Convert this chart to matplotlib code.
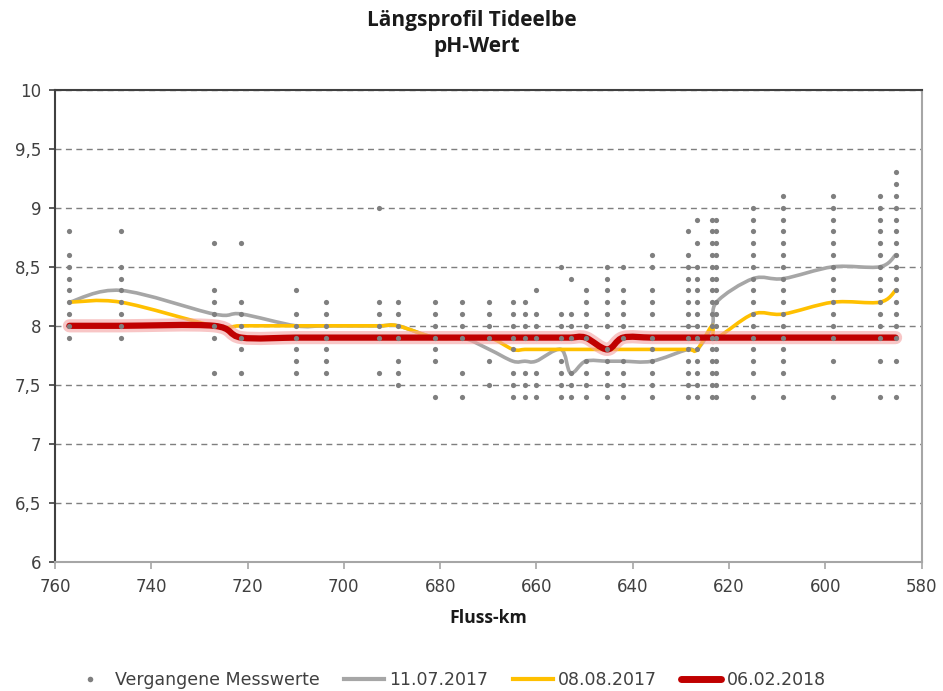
import matplotlib
matplotlib.use("Agg")
import matplotlib.pyplot as plt
import numpy as np
from matplotlib.path import Path
from matplotlib.patches import PathPatch
from matplotlib.lines import Line2D
from matplotlib.ticker import FuncFormatter

# measuring stations (Fluss-km)
stations = [757.0, 746.3, 727.0, 721.3, 710.0, 703.7, 692.7, 688.8, 681.1, 675.4,
            669.8, 664.9, 662.4, 660.1, 654.9, 652.9, 649.8, 645.3, 642.0, 636.0,
            628.6, 626.6, 623.5, 622.6, 615.0, 608.7, 598.4, 588.7, 585.4]

# past measurements per station
past_values = [
    [8.8, 8.6, 8.5, 8.4, 8.3, 8.2, 8.1, 8.0, 7.9],
    [8.8, 8.5, 8.4, 8.3, 8.2, 8.1, 8.0, 7.9],
    [8.7, 8.3, 8.2, 8.1, 8.0, 7.9, 7.6],
    [8.7, 8.2, 8.1, 8.0, 7.9, 7.8, 7.6],
    [8.3, 8.1, 8.0, 7.9, 7.8, 7.7, 7.6],
    [8.2, 8.1, 8.0, 7.9, 7.8, 7.7, 7.6],
    [9.0, 8.2, 8.1, 8.0, 7.9, 7.6],
    [8.2, 8.1, 8.0, 7.9, 7.7, 7.6, 7.5],
    [8.2, 8.1, 8.0, 7.9, 7.8, 7.7, 7.4],
    [8.2, 8.1, 8.0, 7.9, 7.6, 7.4],
    [8.2, 8.1, 8.0, 7.9, 7.7, 7.5],
    [8.2, 8.1, 8.0, 7.9, 7.8, 7.6, 7.5, 7.4],
    [8.2, 8.1, 8.0, 7.9, 7.6, 7.5, 7.4],
    [8.3, 8.1, 8.0, 7.9, 7.6, 7.5, 7.4],
    [8.5, 8.1, 8.0, 7.9, 7.7, 7.6, 7.5, 7.4],
    [8.4, 8.1, 8.0, 7.9, 7.6, 7.5, 7.4],
    [8.3, 8.2, 8.1, 8.0, 7.9, 7.7, 7.6, 7.5, 7.4],
    [8.5, 8.4, 8.3, 8.2, 8.1, 8.0, 7.8, 7.7, 7.6, 7.5, 7.4],
    [8.5, 8.3, 8.2, 8.1, 8.0, 7.9, 7.7, 7.6, 7.5, 7.4],
    [8.6, 8.5, 8.3, 8.2, 8.1, 7.9, 7.8, 7.7, 7.6, 7.5, 7.4],
    [8.8, 8.6, 8.5, 8.4, 8.3, 8.2, 8.1, 8.0, 7.9, 7.8, 7.7, 7.6, 7.5, 7.4],
    [8.9, 8.7, 8.5, 8.4, 8.3, 8.2, 8.1, 8.0, 7.9, 7.8, 7.7, 7.6, 7.5, 7.4],
    [8.9, 8.8, 8.7, 8.6, 8.5, 8.4, 8.3, 8.2, 8.1, 8.0, 7.9, 7.8, 7.7, 7.6, 7.5, 7.4],
    [8.9, 8.8, 8.7, 8.6, 8.5, 8.4, 8.3, 8.2, 8.1, 8.0, 7.9, 7.8, 7.7, 7.6, 7.5, 7.4],
    [9.0, 8.9, 8.8, 8.7, 8.6, 8.5, 8.4, 8.3, 8.2, 8.1, 8.0, 7.9, 7.8, 7.7, 7.6, 7.4],
    [9.1, 9.0, 8.9, 8.8, 8.7, 8.6, 8.5, 8.4, 8.3, 8.2, 8.1, 8.0, 7.9, 7.8, 7.7, 7.6, 7.4],
    [9.1, 9.0, 8.9, 8.8, 8.7, 8.6, 8.5, 8.4, 8.3, 8.2, 8.1, 8.0, 7.9, 7.7, 7.4],
    [9.1, 9.0, 8.9, 8.8, 8.7, 8.6, 8.5, 8.4, 8.3, 8.2, 8.1, 8.0, 7.9, 7.7, 7.4],
    [9.3, 9.2, 9.1, 9.0, 8.9, 8.8, 8.7, 8.6, 8.5, 8.4, 8.3, 8.2, 8.1, 8.0, 7.9, 7.7, 7.4],
]

ph_20170711 = [8.2, 8.3, 8.1, 8.1, 8.0, 8.0, 8.0, 8.0, 7.9, 7.9,
               7.8, 7.7, 7.7, 7.7, 7.8, 7.6, 7.7, 7.7, 7.7, 7.7,
               7.8, 7.8, 8.0, 8.2, 8.4, 8.4, 8.5, 8.5, 8.6]
ph_20170808 = [8.2, 8.2, 8.0, 8.0, 8.0, 8.0, 8.0, 8.0, 7.9, 7.9,
               7.9, 7.8, 7.8, 7.8, 7.8, 7.8, 7.8, 7.8, 7.8, 7.8,
               7.8, 7.8, 8.0, 7.9, 8.1, 8.1, 8.2, 8.2, 8.3]
ph_20180206 = [8.0, 8.0, 8.0, 7.9, 7.9, 7.9, 7.9, 7.9, 7.9, 7.9,
               7.9, 7.9, 7.9, 7.9, 7.9, 7.9, 7.9, 7.8, 7.9, 7.9,
               7.9, 7.9, 7.9, 7.9, 7.9, 7.9, 7.9, 7.9, 7.9]

labels = ["Vergangene Messwerte", "11.07.2017", "08.08.2017", "06.02.2018"]


def smooth_path(x, y):
    # Excel-like smoothed line: cubic Bezier through every point
    pts = np.column_stack([x, y]).astype(float)
    n = len(pts)
    verts = [pts[0]]
    codes = [Path.MOVETO]
    for i in range(n - 1):
        p0 = pts[i - 1] if i > 0 else pts[i]
        p1, p2 = pts[i], pts[i + 1]
        p3 = pts[i + 2] if i + 2 < n else pts[i + 1]
        verts += [p1 + (p2 - p0) / 6, p2 - (p3 - p1) / 6, p2]
        codes += [Path.CURVE4] * 3
    return Path(verts, codes)


fig = plt.figure(figsize=(9.43, 6.91), dpi=100)
ax = fig.add_axes([0.0583, 0.187, 0.919, 0.683])

# past measurements as dots
px = [km for km, vals in zip(stations, past_values) for _ in vals]
py = [v for vals in past_values for v in vals]
ax.scatter(px, py, s=14, color="#7f7f7f", zorder=5, linewidths=0)

gray_c, yellow_c, red_c = "#a6a6a6", "#ffc000", "#c00000"
ax.add_patch(PathPatch(smooth_path(stations, ph_20170711), fill=False,
                       edgecolor=gray_c, lw=2.6, zorder=3, capstyle="round"))
ax.add_patch(PathPatch(smooth_path(stations, ph_20170808), fill=False,
                       edgecolor=yellow_c, lw=2.6, zorder=3, capstyle="round"))
# soft glow under the red line
ax.add_patch(PathPatch(smooth_path(stations, ph_20180206), fill=False,
                       edgecolor="#f4a0a0", lw=9.5, alpha=0.6, zorder=3.5,
                       capstyle="round", joinstyle="round"))
ax.add_patch(PathPatch(smooth_path(stations, ph_20180206), fill=False,
                       edgecolor=red_c, lw=4.5, zorder=4, capstyle="round"))

ax.set_xlim(760, 580)
ax.set_ylim(6, 10)
ax.set_xticks(np.arange(760, 579, -20))
ax.set_yticks(np.arange(6, 10.01, 0.5))
ax.yaxis.set_major_formatter(FuncFormatter(lambda v, _: f"{v:g}".replace(".", ",")))

ax.grid(axis="y", color="#7f7f7f", lw=1, linestyle=(0, (4.3, 3.2)))
ax.set_axisbelow(True)
for side in ["left", "top"]:
    ax.spines[side].set_color("#404040")
    ax.spines[side].set_linewidth(1.5)
for side in ["bottom", "right"]:
    ax.spines[side].set_color("#a6a6a6")
    ax.spines[side].set_linewidth(1.5)

ax.tick_params(axis="x", direction="out", length=5, width=1.2, color="#a6a6a6",
               labelsize=12, labelcolor="#404040", pad=7)
ax.tick_params(axis="y", direction="out", length=4, width=1.2, color="#404040",
               labelsize=12, labelcolor="#404040", pad=6)

ax.set_xlabel("Fluss-km", fontfamily="Open Sans", fontweight="bold", fontsize=12.7,
              labelpad=9, color="#1a1a1a")

fig.text(0.5, 0.971, "Längsprofil Tideelbe", ha="center", va="center",
         fontfamily="Open Sans", fontweight="bold", fontsize=15, color="#1a1a1a")
fig.text(0.505, 0.933, "pH-Wert", ha="center", va="center",
         fontfamily="Open Sans", fontweight="bold", fontsize=15, color="#1a1a1a")

handles = [
    Line2D([], [], ls="none", marker="o", ms=4, color="#7f7f7f", mew=0),
    Line2D([], [], color=gray_c, lw=3),
    Line2D([], [], color=yellow_c, lw=3),
    Line2D([], [], color=red_c, lw=5, solid_capstyle="round"),
]
fig.legend(handles, labels, loc="center", bbox_to_anchor=(0.475, 0.016), ncol=4,
           frameon=False, fontsize=12.5, handlelength=2.3, handletextpad=0.3,
           columnspacing=1.4, labelcolor="#404040")

fig.savefig("out.png", dpi=100)
